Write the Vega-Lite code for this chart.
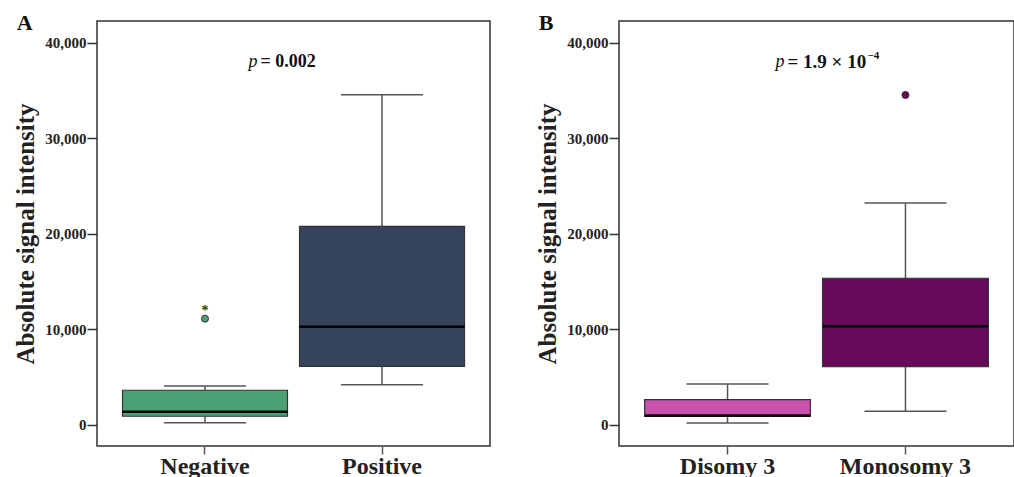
{
  "$schema": "https://vega.github.io/schema/vega-lite/v6.json",
  "background": "white",
  "padding": {"left": 13, "top": 11, "right": 0, "bottom": 0},
  "spacing": 44,
  "config": {
    "font": "Liberation Serif",
    "view": {"stroke": "#333333", "strokeWidth": 1.5},
    "axisY": {
      "domain": false,
      "grid": false,
      "tickSize": 10,
      "tickColor": "#333333",
      "tickWidth": 1.5,
      "labelFont": "Liberation Serif",
      "labelFontSize": 15,
      "labelFontWeight": "bold",
      "labelColor": "#222222",
      "labelPadding": 1,
      "titleFont": "Liberation Serif",
      "titleFontSize": 25,
      "titleFontWeight": "bold",
      "titleColor": "#222222",
      "titlePadding": 6
    },
    "axisX": {
      "domain": false,
      "grid": false,
      "tickSize": 8,
      "tickColor": "#555555",
      "tickWidth": 1.5,
      "labelAngle": 0,
      "labelFont": "Liberation Serif",
      "labelFontSize": 24,
      "labelFontWeight": "bold",
      "labelColor": "#222222",
      "labelPadding": 0,
      "title": null
    },
    "title": {
      "anchor": "start",
      "frame": "bounds",
      "font": "Liberation Serif",
      "fontSize": 22,
      "fontWeight": "bold",
      "color": "#111111",
      "offset": -14,
      "dx": 3
    }
  },
  "datasets": {
    "boxA": [
      {"group": "Negative", "lower": 240, "q1": 910, "median": 1390, "q3": 3630, "upper": 4080},
      {"group": "Positive", "lower": 4220, "q1": 6140, "median": 10280, "q3": 20780, "upper": 34550}
    ],
    "outA": [
      {"group": "Negative", "value": 11120, "mark": "*"}
    ],
    "pA": [
      {"p": "p", "rest": "= 0.002", "sup": "", "y": 38000}
    ],
    "boxB": [
      {"group": "Disomy 3", "lower": 210, "q1": 900, "median": 1000, "q3": 2660, "upper": 4290},
      {"group": "Monosomy 3", "lower": 1430, "q1": 6110, "median": 10320, "q3": 15350, "upper": 23220}
    ],
    "outB": [
      {"group": "Monosomy 3", "value": 34520, "mark": ""}
    ],
    "pB": [
      {"p": "p", "rest": "= 1.9 × 10", "sup": "−4", "y": 38000}
    ]
  },
  "resolve": {"scale": {"x": "independent", "y": "independent", "fill": "independent"}},
  "hconcat": [
    {
      "width": 393,
      "height": 425,
      "title": {"text": "A"},
      "layer": [
        {
          "data": {"name": "boxA"},
          "mark": {"type": "rule", "color": "#555555", "strokeWidth": 1.5},
          "encoding": {
            "x": {"field": "group", "type": "nominal", "scale": {"domain": ["Negative", "Positive"], "paddingInner": 0.068, "paddingOuter": 0.144}},
            "y": {"field": "lower", "type": "quantitative", "scale": {"domain": [-2200, 42260], "nice": false, "zero": false}, "title": "Absolute signal intensity", "axis": {"values": [0, 10000, 20000, 30000, 40000], "format": ",.0f"}},
            "y2": {"field": "q1"}
          }
        },
        {
          "data": {"name": "boxA"},
          "mark": {"type": "rule", "color": "#555555", "strokeWidth": 1.5},
          "encoding": {
            "x": {"field": "group", "type": "nominal"},
            "y": {"field": "q3", "type": "quantitative"},
            "y2": {"field": "upper"}
          }
        },
        {
          "data": {"name": "boxA"},
          "mark": {"type": "tick", "color": "#555555", "thickness": 1.5, "size": 82, "opacity": 1},
          "encoding": {
            "x": {"field": "group", "type": "nominal"},
            "y": {"field": "lower", "type": "quantitative"}
          }
        },
        {
          "data": {"name": "boxA"},
          "mark": {"type": "tick", "color": "#555555", "thickness": 1.5, "size": 82, "opacity": 1},
          "encoding": {
            "x": {"field": "group", "type": "nominal"},
            "y": {"field": "upper", "type": "quantitative"}
          }
        },
        {
          "data": {"name": "boxA"},
          "mark": {"type": "bar", "stroke": "#333333", "strokeWidth": 1.2, "opacity": 1},
          "encoding": {
            "x": {"field": "group", "type": "nominal"},
            "y": {"field": "q1", "type": "quantitative"},
            "y2": {"field": "q3"},
            "fill": {"field": "group", "type": "nominal", "scale": {"domain": ["Negative", "Positive"], "range": ["#4ba174", "#35435c"]}, "legend": null}
          }
        },
        {
          "data": {"name": "boxA"},
          "mark": {"type": "tick", "color": "#000000", "thickness": 2.5, "size": 165, "opacity": 1},
          "encoding": {
            "x": {"field": "group", "type": "nominal"},
            "y": {"field": "median", "type": "quantitative"}
          }
        },
        {
          "data": {"name": "outA"},
          "mark": {"type": "point", "filled": true, "size": 50, "stroke": "#333333", "strokeWidth": 1, "opacity": 1},
          "encoding": {
            "x": {"field": "group", "type": "nominal"},
            "y": {"field": "value", "type": "quantitative"},
            "fill": {"field": "group", "type": "nominal"}
          }
        },
        {
          "data": {"name": "outA"},
          "mark": {"type": "text", "font": "Liberation Serif", "fontSize": 14, "fontWeight": "bold", "color": "#333333", "dy": -8, "baseline": "middle"},
          "encoding": {
            "x": {"field": "group", "type": "nominal"},
            "y": {"field": "value", "type": "quantitative"},
            "text": {"field": "mark"}
          }
        },
        {
          "data": {"name": "pA"},
          "mark": {"type": "text", "font": "Liberation Serif", "fontSize": 18, "fontStyle": "italic", "color": "#111111", "align": "right", "baseline": "middle", "dx": -36},
          "encoding": {
            "y": {"field": "y", "type": "quantitative"},
            "text": {"field": "p"}
          }
        },
        {
          "data": {"name": "pA"},
          "mark": {"type": "text", "font": "Liberation Serif", "fontSize": 18, "fontWeight": "bold", "color": "#111111", "align": "left", "baseline": "middle", "dx": -33},
          "encoding": {
            "y": {"field": "y", "type": "quantitative"},
            "text": {"field": "rest"}
          }
        }
      ]
    },
    {
      "width": 395,
      "height": 425,
      "title": {"text": "B"},
      "layer": [
        {
          "data": {"name": "boxB"},
          "mark": {"type": "rule", "color": "#555555", "strokeWidth": 1.5},
          "encoding": {
            "x": {"field": "group", "type": "nominal", "scale": {"domain": ["Disomy 3", "Monosomy 3"], "paddingInner": 0.068, "paddingOuter": 0.144}},
            "y": {"field": "lower", "type": "quantitative", "scale": {"domain": [-2200, 42260], "nice": false, "zero": false}, "title": "Absolute signal intensity", "axis": {"values": [0, 10000, 20000, 30000, 40000], "format": ",.0f"}},
            "y2": {"field": "q1"}
          }
        },
        {
          "data": {"name": "boxB"},
          "mark": {"type": "rule", "color": "#555555", "strokeWidth": 1.5},
          "encoding": {
            "x": {"field": "group", "type": "nominal"},
            "y": {"field": "q3", "type": "quantitative"},
            "y2": {"field": "upper"}
          }
        },
        {
          "data": {"name": "boxB"},
          "mark": {"type": "tick", "color": "#555555", "thickness": 1.5, "size": 82, "opacity": 1},
          "encoding": {
            "x": {"field": "group", "type": "nominal"},
            "y": {"field": "lower", "type": "quantitative"}
          }
        },
        {
          "data": {"name": "boxB"},
          "mark": {"type": "tick", "color": "#555555", "thickness": 1.5, "size": 82, "opacity": 1},
          "encoding": {
            "x": {"field": "group", "type": "nominal"},
            "y": {"field": "upper", "type": "quantitative"}
          }
        },
        {
          "data": {"name": "boxB"},
          "mark": {"type": "bar", "stroke": "#333333", "strokeWidth": 1.2, "opacity": 1},
          "encoding": {
            "x": {"field": "group", "type": "nominal"},
            "y": {"field": "q1", "type": "quantitative"},
            "y2": {"field": "q3"},
            "fill": {"field": "group", "type": "nominal", "scale": {"domain": ["Disomy 3", "Monosomy 3"], "range": ["#c850ae", "#660a5a"]}, "legend": null}
          }
        },
        {
          "data": {"name": "boxB"},
          "mark": {"type": "tick", "color": "#000000", "thickness": 2.5, "size": 165, "opacity": 1},
          "encoding": {
            "x": {"field": "group", "type": "nominal"},
            "y": {"field": "median", "type": "quantitative"}
          }
        },
        {
          "data": {"name": "outB"},
          "mark": {"type": "point", "filled": true, "size": 50, "stroke": "#333333", "strokeWidth": 1, "opacity": 1},
          "encoding": {
            "x": {"field": "group", "type": "nominal"},
            "y": {"field": "value", "type": "quantitative"},
            "fill": {"field": "group", "type": "nominal"}
          }
        },
        {
          "data": {"name": "pB"},
          "mark": {"type": "text", "font": "Liberation Serif", "fontSize": 18, "fontStyle": "italic", "color": "#111111", "align": "right", "baseline": "middle", "dx": -32},
          "encoding": {
            "y": {"field": "y", "type": "quantitative"},
            "text": {"field": "p"}
          }
        },
        {
          "data": {"name": "pB"},
          "mark": {"type": "text", "font": "Liberation Serif", "fontSize": 19, "fontWeight": "bold", "color": "#111111", "align": "left", "baseline": "middle", "dx": -29},
          "encoding": {
            "y": {"field": "y", "type": "quantitative"},
            "text": {"field": "rest"}
          }
        },
        {
          "data": {"name": "pB"},
          "mark": {"type": "text", "font": "Liberation Serif", "fontSize": 11, "fontWeight": "bold", "color": "#111111", "align": "left", "baseline": "middle", "dx": 51, "dy": -6},
          "encoding": {
            "y": {"field": "y", "type": "quantitative"},
            "text": {"field": "sup"}
          }
        }
      ]
    }
  ]
}
